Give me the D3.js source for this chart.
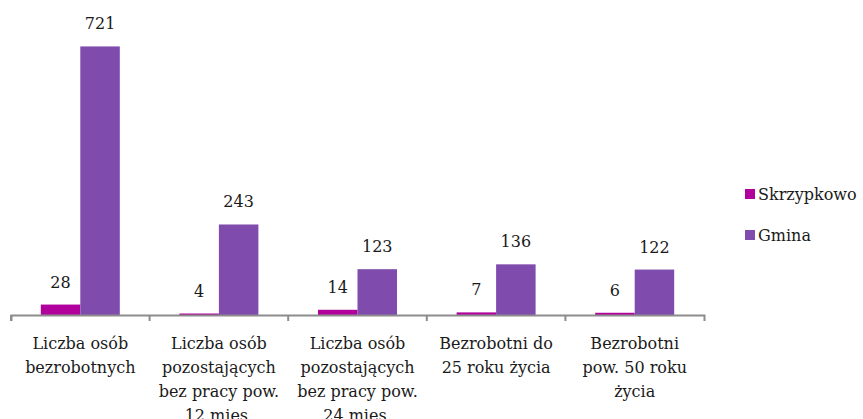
<!DOCTYPE html>
<html>
<head>
<meta charset="utf-8">
<title>Bezrobotni</title>
<script src="https://cdn.jsdelivr.net/npm/d3@7"></script>
<style>
    body { margin: 0; background: #fff; }
</style>
</head>
<body>
<svg></svg>
<script>
// dane z wykresu
var categories = [
    'Liczba osób\nbezrobotnych',
    'Liczba osób\npozostających\nbez pracy pow.\n12 mies.',
    'Liczba osób\npozostających\nbez pracy pow.\n24 mies.',
    'Bezrobotni do\n25 roku życia',
    'Bezrobotni\npow. 50 roku\nżycia'
];
var seriesNames = ['Skrzypkowo', 'Gmina'];
var skrzypkowo = [28, 4, 14, 7, 6];
var gmina = [721, 243, 123, 136, 122];

var W = 863, H = 419,
    axisY = 315,
    left = 11, right = 704,
    barW = 39.5,
    fontSize = '16px',
    FONT = "'DejaVu Serif', serif",
    colors = {'Skrzypkowo': '#b1009c', 'Gmina': '#7f4cae'};

var rows = categories.map(function(c, i) {
    return {cat: c, values: [
        {name: 'Skrzypkowo', value: skrzypkowo[i]},
        {name: 'Gmina', value: gmina[i]}
    ]};
});

var svg = d3.select('svg')
    .attr('width', W)
    .attr('height', H)
    .style('font-family', FONT);

var x = d3.scaleBand()
    .domain(categories)
    .range([left, right]);

var x1 = d3.scaleBand()
    .domain(seriesNames)
    .range([x.bandwidth() / 2 - barW, x.bandwidth() / 2 + barW]);

var y = d3.scaleLinear()
    .domain([0, 800])
    .range([axisY, 17]);

var groups = svg.selectAll('.group')
    .data(rows)
  .enter().append('g')
    .attr('class', 'group')
    .attr('transform', function(d) { return 'translate(' + x(d.cat) + ',0)'; });

groups.selectAll('rect')
    .data(function(d) { return d.values; })
  .enter().append('rect')
    .attr('x', function(d) { return x1(d.name); })
    .attr('y', function(d) { return y(d.value); })
    .attr('width', x1.bandwidth())
    .attr('height', function(d) { return axisY - y(d.value); })
    .style('fill', function(d) { return colors[d.name]; });

groups.selectAll('.val')
    .data(function(d) { return d.values; })
  .enter().append('text')
    .attr('class', 'val')
    .attr('x', function(d) { return x1(d.name) + x1.bandwidth() / 2; })
    .attr('y', function(d) { return y(d.value) - 17; })
    .attr('text-anchor', 'middle')
    .style('font-family', FONT)
    .style('font-size', fontSize)
    .style('fill', '#1a1a1a')
    .text(function(d) { return d.value; });

// os X
var axis = svg.append('g')
    .attr('transform', 'translate(0,' + axisY + ')')
    .call(d3.axisBottom(x).tickSize(6).tickSizeOuter(6));

axis.attr('font-family', null);

axis.select('.domain')
    .style('stroke', '#8c8c8c')
    .style('stroke-width', 2);

axis.selectAll('.tick line')
    .attr('x1', -x.step() / 2)
    .attr('x2', -x.step() / 2)
    .style('stroke', '#8c8c8c')
    .style('stroke-width', 2);

axis.selectAll('.tick text').remove();

axis.selectAll('.tick').append('text')
    .attr('text-anchor', 'middle')
    .attr('y', 34)
    .style('font-family', FONT)
    .style('font-size', fontSize)
    .style('fill', '#1a1a1a')
    .each(function(d) {
        var t = d3.select(this);
        d.split('\n').forEach(function(line, i) {
            t.append('tspan')
                .attr('x', 0)
                .attr('dy', i === 0 ? 0 : 24)
                .text(line);
        });
    });

// legenda
var legend = svg.selectAll('.legend')
    .data(seriesNames)
  .enter().append('g')
    .attr('class', 'legend')
    .attr('transform', function(d, i) { return 'translate(745,' + (189 + i * 41) + ')'; });

legend.append('rect')
    .attr('width', 10)
    .attr('height', 10)
    .style('fill', function(d) { return colors[d]; });

legend.append('text')
    .attr('x', 13)
    .attr('y', 11)
    .style('font-family', FONT)
    .style('font-size', fontSize)
    .style('fill', '#1a1a1a')
    .text(function(d) { return d; });
</script>
</body>
</html>
